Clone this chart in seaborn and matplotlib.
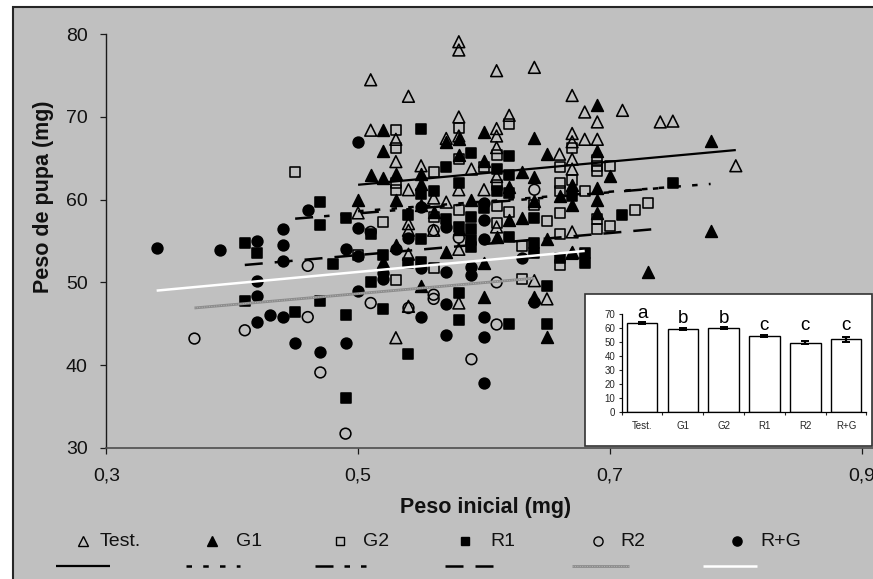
import matplotlib
matplotlib.use("Agg")
import numpy as np
import pandas as pd
import matplotlib.pyplot as plt
import seaborn as sns
from matplotlib.lines import Line2D
from matplotlib.patches import Rectangle

sns.set_theme(style="white")
plt.rcParams["font.family"] = ["Liberation Sans", "DejaVu Sans"]

# ---------------------------------------------------------------- data
groups = ["Test.", "G1", "G2", "R1", "R2", "R+G"]

# initial weight (mg), pupal weight (mg) per treatment
test_pts = [(0.58, 79.1), (0.58, 78.1), (0.51, 74.5), (0.54, 72.5), (0.61, 75.6), (0.64, 76.0),
            (0.67, 72.6), (0.51, 68.4), (0.58, 70.0), (0.62, 70.2), (0.61, 68.6), (0.61, 67.7),
            (0.57, 67.4), (0.58, 67.7), (0.53, 67.3), (0.53, 64.6), (0.55, 64.1), (0.61, 66.3),
            (0.66, 65.5), (0.67, 68.0), (0.67, 67.0), (0.67, 64.9), (0.67, 63.7), (0.59, 63.7),
            (0.61, 62.8), (0.58, 61.2), (0.54, 61.2), (0.60, 61.2), (0.56, 60.2), (0.57, 59.7),
            (0.50, 58.4), (0.54, 57.1), (0.54, 56.3), (0.61, 56.7), (0.67, 56.1), (0.56, 56.3),
            (0.54, 53.4), (0.53, 43.3), (0.54, 47.1), (0.58, 54.0), (0.58, 47.5), (0.64, 50.2),
            (0.65, 48.0), (0.67, 53.5), (0.68, 70.6), (0.71, 70.8), (0.69, 69.4), (0.74, 69.4),
            (0.75, 69.5), (0.68, 67.3), (0.69, 67.3), (0.80, 64.1)]
g1_pts = [(0.52, 68.4), (0.52, 65.9), (0.51, 63.0), (0.52, 62.6), (0.53, 63.1), (0.55, 63.1),
          (0.55, 61.9), (0.57, 67.0), (0.58, 67.3), (0.58, 65.4), (0.60, 68.2), (0.64, 67.4),
          (0.65, 65.5), (0.63, 63.4), (0.64, 62.8), (0.67, 61.8), (0.50, 60.0), (0.53, 60.0),
          (0.55, 59.3), (0.59, 60.0), (0.62, 57.5), (0.67, 59.3), (0.60, 64.7), (0.65, 55.3),
          (0.53, 54.5), (0.52, 52.5), (0.57, 53.7), (0.60, 52.3), (0.55, 49.6), (0.60, 48.2),
          (0.64, 48.2), (0.65, 43.4), (0.67, 53.7), (0.69, 71.4), (0.78, 67.1), (0.69, 65.9),
          (0.70, 62.9), (0.69, 61.4), (0.69, 60.0), (0.69, 58.4), (0.78, 56.2), (0.73, 51.3),
          (0.56, 58.5), (0.58, 56.5), (0.61, 55.5), (0.63, 57.8), (0.62, 61.5), (0.64, 59.8),
          (0.66, 60.5)]
g2_pts = [(0.45, 63.4), (0.53, 68.4), (0.53, 66.2), (0.53, 62.0), (0.53, 61.2), (0.58, 68.7),
          (0.58, 64.9), (0.62, 69.1), (0.61, 65.4), (0.61, 61.8), (0.56, 63.4), (0.60, 64.0),
          (0.66, 63.9), (0.67, 66.2), (0.67, 62.4), (0.66, 62.0), (0.66, 61.0), (0.64, 59.3),
          (0.66, 58.4), (0.65, 57.4), (0.58, 58.8), (0.56, 57.9), (0.52, 57.3), (0.61, 59.2),
          (0.62, 58.5), (0.61, 57.2), (0.66, 55.9), (0.53, 50.3), (0.56, 51.7), (0.63, 54.4),
          (0.63, 50.4), (0.66, 52.1), (0.50, 53.3), (0.69, 64.8), (0.69, 64.1), (0.69, 63.5),
          (0.70, 64.1), (0.68, 61.1), (0.69, 57.7), (0.69, 56.4), (0.70, 56.8), (0.72, 58.8),
          (0.73, 59.6)]
r1_pts = [(0.55, 68.5), (0.59, 65.7), (0.62, 65.3), (0.57, 63.9), (0.61, 63.7), (0.58, 62.0),
          (0.62, 63.0), (0.62, 60.8), (0.55, 60.7), (0.47, 59.7), (0.47, 56.9), (0.49, 57.8),
          (0.54, 58.1), (0.57, 57.7), (0.58, 56.7), (0.59, 57.9), (0.59, 56.5), (0.64, 57.8),
          (0.67, 60.4), (0.51, 55.9), (0.55, 55.3), (0.41, 54.8), (0.42, 53.6), (0.48, 52.2),
          (0.41, 47.7), (0.45, 46.4), (0.47, 47.7), (0.49, 46.0), (0.49, 36.0), (0.51, 50.0),
          (0.52, 53.3), (0.52, 46.8), (0.54, 52.3), (0.54, 41.3), (0.55, 52.5), (0.58, 48.7),
          (0.58, 45.4), (0.59, 55.1), (0.59, 54.3), (0.62, 45.0), (0.64, 54.7), (0.64, 53.5),
          (0.65, 49.6), (0.65, 45.0), (0.66, 52.9), (0.62, 55.5), (0.75, 62.0), (0.71, 58.1),
          (0.68, 53.5), (0.68, 52.3), (0.56, 61.0), (0.60, 59.0), (0.61, 61.0)]
r2_pts = [(0.37, 43.2), (0.41, 44.2), (0.46, 52.0), (0.46, 45.8), (0.47, 39.1), (0.49, 31.7),
          (0.51, 47.5), (0.56, 48.5), (0.56, 48.0), (0.54, 46.9), (0.59, 40.7), (0.61, 50.0),
          (0.61, 44.9), (0.58, 55.4), (0.64, 61.2), (0.56, 56.3), (0.51, 56.1)]
rg_pts = [(0.50, 67.0), (0.46, 58.7), (0.50, 56.6), (0.44, 56.5), (0.42, 55.0), (0.60, 59.6),
          (0.55, 59.1), (0.57, 56.7), (0.60, 57.5), (0.54, 55.4), (0.34, 54.2), (0.39, 53.9),
          (0.44, 54.5), (0.44, 52.6), (0.42, 50.2), (0.42, 48.4), (0.43, 46.0), (0.44, 45.8),
          (0.42, 45.2), (0.45, 42.7), (0.47, 41.6), (0.49, 42.7), (0.49, 54.0), (0.50, 53.2),
          (0.50, 48.9), (0.52, 51.1), (0.52, 50.4), (0.53, 54.0), (0.55, 51.7), (0.55, 45.8),
          (0.57, 47.4), (0.57, 43.6), (0.59, 51.9), (0.59, 50.9), (0.60, 55.2), (0.60, 45.8),
          (0.60, 43.4), (0.60, 37.8), (0.63, 52.9), (0.64, 47.6), (0.57, 51.3)]

# fitted regression lines: x range and fitted y at both ends
fit_x0 = [0.50, 0.50, 0.45, 0.41, 0.37, 0.34]
fit_x1 = [0.80, 0.78, 0.74, 0.74, 0.64, 0.68]
fit_y0 = [61.8, 58.6, 57.7, 52.1, 46.9, 49.0]
fit_y1 = [66.0, 61.9, 61.4, 56.5, 50.5, 53.8]

# mean pupal weight, standard error and significance letters
bar_means = [63.4, 59.1, 59.8, 54.6, 49.6, 51.9]
bar_err = [0.7, 0.6, 0.6, 0.7, 1.3, 1.5]
bar_letters = ["a", "b", "b", "c", "c", "c"]

x_ticks = [0.3, 0.5, 0.7, 0.9]
x_ticklabels = ["0,3", "0,5", "0,7", "0,9"]

# ---------------------------------------------------------------- styles
W, H = 873, 579
BG = "#c0c0c0"
marker_styles = [
    dict(marker="^", s=72, fc="none", ec="black"),
    dict(marker="^", s=72, fc="black", ec="black"),
    dict(marker="s", s=52, fc="none", ec="black"),
    dict(marker="s", s=52, fc="black", ec="black"),
    dict(marker="o", s=60, fc="none", ec="black"),
    dict(marker="o", s=60, fc="black", ec="black"),
]
line_styles = [
    dict(color="black", lw=1.6, ls="-"),
    dict(color="black", lw=1.8, ls=(0, (2.2, 4.5))),
    dict(color="black", lw=1.8, ls=(0, (7.2, 4.4, 2.2, 4.4, 2.2, 6.0))),
    dict(color="black", lw=1.8, ls=(0, (7.2, 4.8))),
    dict(color="#8c8c8c", lw=2.0, ls="-"),
    dict(color="white", lw=1.8, ls="-"),
]


def fx(px):
    return px / W


def fy(py):
    return 1 - py / H


fig = plt.figure(figsize=(W / 100, H / 100), dpi=100)
fig.patch.set_facecolor("white")

# grey chart area with dark frame
fig.add_artist(Rectangle((fx(12.7), -0.05), 1.1, fy(6.7) + 0.05,
                         transform=fig.transFigure, facecolor=BG,
                         edgecolor="#262626", lw=1.5, zorder=-10))

# ---------------------------------------------------------------- main axes
ax = fig.add_axes([fx(106.3), fy(447.7), fx(873 - 106.3), (447.7 - 34.3) / H])
ax.patch.set_alpha(0)

all_pts = [test_pts, g1_pts, g2_pts, r1_pts, r2_pts, rg_pts]
for name, pts, st in zip(groups, all_pts, marker_styles):
    df = pd.DataFrame(pts, columns=["peso_inicial", "peso_pupa"])
    sns.scatterplot(data=df, x="peso_inicial", y="peso_pupa", ax=ax,
                    marker=st["marker"], s=st["s"], fc=st["fc"], ec=st["ec"],
                    linewidth=1.15, zorder=3, legend=False)

# gray R2 fit gets a fine light stipple on top for its textured look
for i, st in enumerate(line_styles):
    ax.plot([fit_x0[i], fit_x1[i]], [fit_y0[i], fit_y1[i]], color=st["color"],
            lw=st["lw"], ls=st["ls"], zorder=4, solid_capstyle="butt",
            dash_capstyle="butt")
ax.plot([fit_x0[4], fit_x1[4]], [fit_y0[4], fit_y1[4]], color="#b4b4b4",
        lw=0.7, ls=(0, (1, 1.5)), zorder=4)

ax.set_xlim(0.3, 0.3 + (873 - 106.3) / 1259)
ax.set_ylim(30, 80)
ax.set_xticks(x_ticks)
ax.set_xticklabels(x_ticklabels)
ax.set_yticks(np.arange(30, 81, 10))
ax.set_xlabel("")
ax.set_ylabel("")
for side in ["top", "right"]:
    ax.spines[side].set_visible(False)
ax.spines["left"].set_color("#1a1a1a")
ax.spines["bottom"].set_color("#4d4d4d")
ax.spines["left"].set_linewidth(1.0)
ax.spines["bottom"].set_linewidth(1.2)
ax.tick_params(axis="y", left=True, direction="out", length=4.5, width=0.9,
               color="#1a1a1a", labelsize=14, pad=9, labelcolor="#111111")
ax.tick_params(axis="x", bottom=True, direction="out", length=4.0, width=0.9,
               color="#1a1a1a", labelsize=14, pad=10, labelcolor="#111111")

fig.text(fx(44), fy(197), "Peso de pupa (mg)", rotation=90, ha="center",
         va="center", fontsize=15.5, fontweight="bold", color="#111111")
fig.text(fx(486), fy(508), "Peso inicial (mg)", ha="center", va="center",
         fontsize=15.5, fontweight="bold", color="#111111")

# ---------------------------------------------------------------- legend rows
marker_x = [83, 212, 340, 465, 598, 737]
label_x = [100, 236, 363, 490, 620, 760]
line_x = [(56, 110), (186, 240), (315, 368), (445, 497), (572, 629), (703, 757)]
for i, name in enumerate(groups):
    st = marker_styles[i]
    fig.add_artist(Line2D([fx(marker_x[i])], [fy(541)], transform=fig.transFigure,
                          marker=st["marker"], markersize=np.sqrt(st["s"]) * 0.85,
                          markerfacecolor=st["fc"], markeredgecolor=st["ec"],
                          markeredgewidth=1.0, linestyle="none"))
    fig.text(fx(label_x[i]), fy(541), name, ha="left", va="center",
             fontsize=14, color="#111111")
    ls = line_styles[i]
    fig.add_artist(Line2D([fx(line_x[i][0]), fx(line_x[i][1])], [fy(566), fy(566)],
                          transform=fig.transFigure, color=ls["color"], lw=ls["lw"],
                          linestyle=ls["ls"], solid_capstyle="butt",
                          dash_capstyle="butt"))
fig.add_artist(Line2D([fx(line_x[4][0]), fx(line_x[4][1])], [fy(566), fy(566)],
                      transform=fig.transFigure, color="#b4b4b4", lw=0.7,
                      linestyle=(0, (1, 1.5))))

# ---------------------------------------------------------------- inset bar chart
fig.add_artist(Rectangle((fx(585), fy(446)), fx(872 - 585), (446 - 294) / H,
                         transform=fig.transFigure, facecolor="white",
                         edgecolor="#333333", lw=1.2, zorder=5))
axi = fig.add_axes([fx(621.6), fy(412.3), fx(866.4 - 621.6), (412.3 - 314) / H])
axi.set_zorder(6)
axi.patch.set_alpha(0)
bars_df = pd.DataFrame({"grupo": groups, "peso": bar_means})
sns.barplot(data=bars_df, x="grupo", y="peso", ax=axi, color="white",
            saturation=1, edgecolor="black", linewidth=1.0, width=0.75,
            errorbar=None)
axi.errorbar(np.arange(len(groups)), bar_means, yerr=bar_err, fmt="none",
             ecolor="black", elinewidth=1.6, capsize=3, capthick=1.4, zorder=5)
letter_pad = 3.2
for i, let in enumerate(bar_letters):
    same = [bar_means[j] + bar_err[j] for j in range(len(groups)) if bar_letters[j] == let]
    axi.text(i, max(same) + letter_pad, let, ha="center", va="baseline",
             fontsize=13.5, color="black")
axi.set_xlim(-0.5, len(groups) - 0.5)
axi.set_ylim(0, 70)
axi.set_yticks(np.arange(0, 71, 10))
axi.set_xticks(np.arange(-0.5, len(groups), 1), minor=True)
axi.set_xlabel("")
axi.set_ylabel("")
for side in ["top", "right"]:
    axi.spines[side].set_visible(False)
for side in ["left", "bottom"]:
    axi.spines[side].set_color("black")
    axi.spines[side].set_linewidth(0.9)
axi.tick_params(axis="y", left=True, direction="out", length=2.5, width=0.8,
                labelsize=7, pad=2)
axi.tick_params(axis="x", which="major", bottom=False, length=0, labelsize=7, pad=6)
axi.tick_params(axis="x", which="minor", bottom=True, direction="out", length=2.5,
                width=0.8)

fig.savefig("out.png", dpi=100, facecolor="white")
